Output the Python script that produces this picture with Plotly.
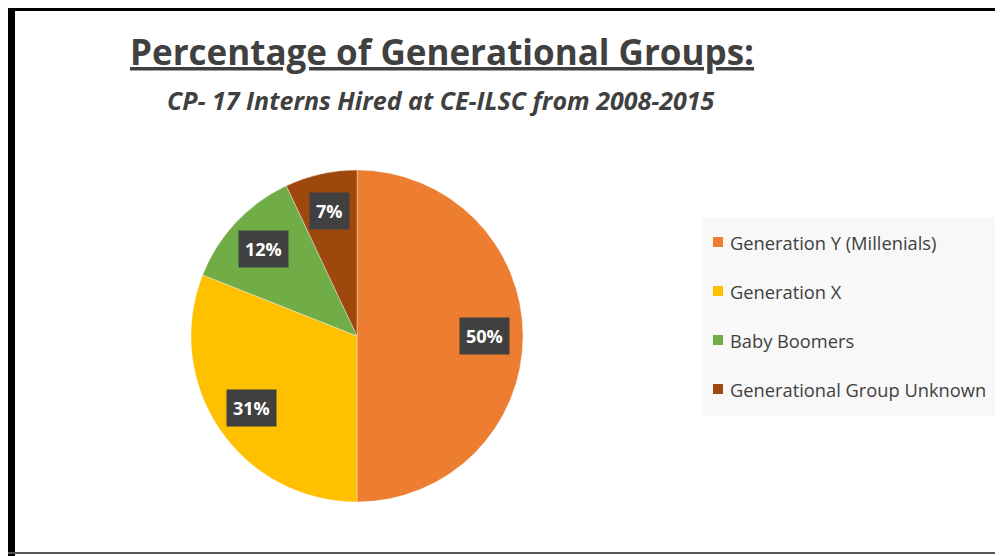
import math
import plotly.graph_objects as go

# ---- data ----
labels = ["Generation Y (Millenials)", "Generation X", "Baby Boomers", "Generational Group Unknown"]
values = [50, 31, 12, 7]
colors = ["#ED7D31", "#FFC000", "#70AD47", "#9E480E"]
title_text = "Percentage of Generational Groups:"
subtitle_text = "CP- 17 Interns Hired at CE-ILSC from 2008-2015"

# ---- layout constants (page pixels) ----
W, H = 1003, 556
OFF = 8  # page margin around the plot div
cx, cy, R = 357, 336, 166
FONT = "Open Sans"
TXT = "#404040"

def px(x):
    return (x - OFF) / W

def py(y):
    return 1 - (y - OFF) / H

fig = go.Figure()
fig.add_trace(go.Pie(
    labels=labels, values=values, sort=False, direction="clockwise", rotation=0,
    marker=dict(colors=colors, line=dict(color="rgba(255,255,255,0.6)", width=0.6)),
    textinfo="none", hoverinfo="label+percent", showlegend=False,
    domain=dict(x=[px(cx - R), px(cx + R)], y=[py(cy + R), py(cy - R)]),
))

annotations = []
shapes = []

# data labels (positions computed from the values)
total = sum(values)
cum = 0
for v in values:
    mid = 2 * math.pi * (cum + v / 2) / total
    cum += v
    rf = 0.77
    x = cx + rf * R * math.sin(mid)
    y = cy - rf * R * math.cos(mid)
    annotations.append(dict(
        x=px(x), y=py(y), xref="paper", yref="paper", showarrow=False,
        text=f"<b>{round(100 * v / total)}%</b>",
        font=dict(family=FONT, size=18, color="white"),
        bgcolor="#404040", borderpad=6, xanchor="center", yanchor="middle",
    ))

# title & subtitle
annotations.append(dict(
    x=px(442), y=py(52), xref="paper", yref="paper", showarrow=False,
    text=f"<b><u>{title_text}</u></b>", font=dict(family=FONT, size=35, color=TXT),
    xanchor="center", yanchor="middle",
))
annotations.append(dict(
    x=px(441), y=py(100), xref="paper", yref="paper", showarrow=False,
    text=f"<b><i>{subtitle_text}</i></b>", font=dict(family=FONT, size=25, color=TXT),
    xanchor="center", yanchor="middle",
))

# legend (manual, to match the wide spacing)
shapes.append(dict(type="rect", xref="paper", yref="paper",
                   x0=px(703), x1=px(1000), y0=py(416), y1=py(217),
                   fillcolor="#F8F8F8", line=dict(width=0), layer="below"))
leg_y0, leg_dy = 242, 49
for i, (lab, col) in enumerate(zip(labels, colors)):
    yy = leg_y0 + i * leg_dy
    shapes.append(dict(type="rect", xref="paper", yref="paper",
                       x0=px(713), x1=px(723), y0=py(yy + 5), y1=py(yy - 5),
                       fillcolor=col, line=dict(width=0)))
    annotations.append(dict(
        x=px(728), y=py(yy), xref="paper", yref="paper", showarrow=False,
        text=lab, font=dict(family=FONT, size=18.3, color=TXT),
        xanchor="left", yanchor="middle",
    ))

# frame
shapes.append(dict(type="rect", xref="paper", yref="paper",
                   x0=px(8), x1=px(15), y0=0, y1=1, fillcolor="black", line=dict(width=0)))
shapes.append(dict(type="rect", xref="paper", yref="paper",
                   x0=px(8), x1=1, y0=py(11), y1=1, fillcolor="black", line=dict(width=0)))
shapes.append(dict(type="rect", xref="paper", yref="paper",
                   x0=px(8), x1=1, y0=py(554), y1=py(552), fillcolor="#555555", line=dict(width=0)))

fig.update_layout(
    width=W, height=H, margin=dict(l=0, r=0, t=0, b=0),
    paper_bgcolor="white", plot_bgcolor="white",
    annotations=annotations, shapes=shapes,
)

fig.write_html("out.html")
